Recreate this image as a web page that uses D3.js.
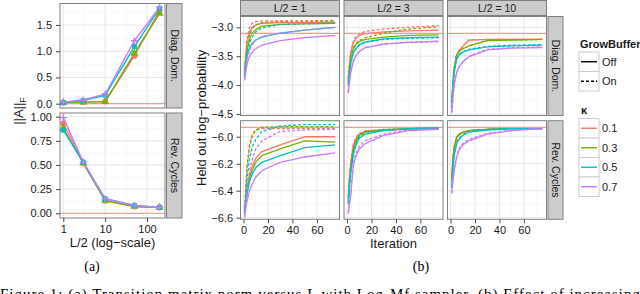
<!DOCTYPE html>
<html>
<head>
<meta charset="utf-8">
<script src="https://cdnjs.cloudflare.com/ajax/libs/d3/7.8.5/d3.min.js"></script>
<style>
body { margin: 0; background: #fff; }
svg { display: block; }
</style>
</head>
<body>
<script>
// ---- data ----
const kappas = ["0.1", "0.3", "0.5", "0.7"];
const kappaColors = ["#F8766D", "#7CAE00", "#00BFC4", "#C77CFF"];
const bufferLabels = ["Off", "On"];
const rowNames = ["Diag. Dom.", "Rev. Cycles"];
const colNames = ["L/2 = 1", "L/2 = 3", "L/2 = 10"];

// (a) ||A||_F against L/2, one row per kappa
const halfL = [1, 3, 10, 50, 200];
const normDiag = [
    [0.02, 0.03, 0.04, 0.91, 1.78],
    [0.02, 0.03, 0.04, 0.96, 1.72],
    [0.02, 0.06, 0.16, 1.09, 1.82],
    [0.03, 0.07, 0.18, 1.20, 1.84]
];
const normRev = [
    [0.93, 0.52, 0.13, 0.07, 0.06],
    [0.88, 0.52, 0.13, 0.07, 0.06],
    [0.86, 0.53, 0.15, 0.08, 0.06],
    [0.99, 0.53, 0.15, 0.08, 0.06]
];
const normRef = 0;

// (b) held out log-probability against iteration
const iters = [1, 2, 3, 5, 7, 10, 15, 30, 50, 75];
const diagL1Off = [
    [-3.75, -3.45, -3.25, -3.08, -3.00, -2.96, -2.93, -2.92, -2.92, -2.91],
    [-3.80, -3.55, -3.38, -3.20, -3.10, -3.04, -2.98, -2.95, -2.94, -2.93],
    [-3.85, -3.62, -3.48, -3.35, -3.28, -3.22, -3.17, -3.10, -3.05, -3.00],
    [-3.92, -3.75, -3.62, -3.50, -3.43, -3.37, -3.31, -3.23, -3.18, -3.14]
];
const diagL1On = [
    [-3.72, -3.40, -3.18, -3.00, -2.93, -2.90, -2.89, -2.89, -2.89, -2.88],
    [-3.78, -3.50, -3.30, -3.12, -3.02, -2.96, -2.92, -2.90, -2.90, -2.89],
    [-3.85, -3.60, -3.43, -3.27, -3.17, -3.08, -3.01, -2.95, -2.94, -2.93],
    [-3.90, -3.70, -3.55, -3.40, -3.30, -3.22, -3.16, -3.10, -3.05, -3.00]
];
const diagL3Off = [
    [-3.90, -3.65, -3.45, -3.28, -3.20, -3.14, -3.11, -3.08, -3.06, -3.05],
    [-3.95, -3.72, -3.55, -3.38, -3.30, -3.25, -3.21, -3.17, -3.14, -3.13],
    [-4.00, -3.80, -3.62, -3.45, -3.37, -3.30, -3.25, -3.20, -3.18, -3.17],
    [-4.14, -3.95, -3.78, -3.60, -3.50, -3.42, -3.35, -3.29, -3.26, -3.24]
];
const diagL3On = [
    [-3.88, -3.62, -3.42, -3.25, -3.17, -3.11, -3.07, -3.03, -3.00, -2.97],
    [-3.95, -3.70, -3.53, -3.36, -3.28, -3.23, -3.18, -3.10, -3.03, -2.99],
    [-4.00, -3.80, -3.62, -3.46, -3.38, -3.31, -3.26, -3.21, -3.19, -3.18],
    [-4.12, -3.93, -3.77, -3.60, -3.50, -3.42, -3.35, -3.29, -3.26, -3.25]
];
const diagL10Off = [
    [-4.30, -3.95, -3.70, -3.48, -3.40, -3.33, -3.22, -3.21, -3.21, -3.21],
    [-4.30, -3.95, -3.70, -3.48, -3.42, -3.37, -3.32, -3.23, -3.22, -3.21],
    [-4.40, -4.00, -3.78, -3.55, -3.48, -3.43, -3.39, -3.34, -3.32, -3.31],
    [-4.48, -4.20, -3.98, -3.78, -3.68, -3.60, -3.51, -3.39, -3.36, -3.35]
];
const diagL10On = [
    [-4.30, -3.95, -3.70, -3.48, -3.40, -3.33, -3.22, -3.21, -3.21, -3.21],
    [-4.30, -3.95, -3.70, -3.48, -3.42, -3.37, -3.32, -3.23, -3.22, -3.21],
    [-4.40, -4.00, -3.78, -3.55, -3.47, -3.42, -3.38, -3.33, -3.31, -3.30],
    [-4.47, -4.20, -3.98, -3.78, -3.68, -3.60, -3.50, -3.38, -3.35, -3.34]
];
const revL1Off = [
    [-6.55, -6.45, -6.37, -6.28, -6.22, -6.16, -6.11, -6.06, -6.00, -6.00],
    [-6.56, -6.47, -6.40, -6.30, -6.25, -6.19, -6.14, -6.09, -6.03, -6.04],
    [-6.57, -6.48, -6.42, -6.33, -6.28, -6.23, -6.19, -6.14, -6.08, -6.06],
    [-6.60, -6.52, -6.47, -6.40, -6.35, -6.30, -6.25, -6.19, -6.15, -6.12]
];
const revL1On = [
    [-6.52, -6.35, -6.20, -6.05, -5.98, -5.95, -5.94, -5.94, -5.94, -5.94],
    [-6.53, -6.37, -6.22, -6.07, -6.00, -5.95, -5.93, -5.925, -5.925, -5.925],
    [-6.55, -6.42, -6.30, -6.16, -6.08, -6.02, -5.96, -5.92, -5.91, -5.91],
    [-6.58, -6.48, -6.38, -6.25, -6.17, -6.09, -6.03, -5.96, -5.95, -5.945]
];
const revL3Off = [
    [-6.45, -6.30, -6.20, -6.07, -6.02, -5.98, -5.96, -5.95, -5.945, -5.945],
    [-6.47, -6.33, -6.23, -6.10, -6.04, -5.99, -5.965, -5.95, -5.94, -5.94],
    [-6.50, -6.37, -6.27, -6.14, -6.07, -6.01, -5.98, -5.955, -5.94, -5.935],
    [-6.57, -6.50, -6.44, -6.22, -6.15, -6.09, -6.05, -5.99, -5.955, -5.945]
];
const revL3On = [
    [-6.44, -6.29, -6.19, -6.06, -6.01, -5.975, -5.955, -5.95, -5.945, -5.945],
    [-6.46, -6.32, -6.22, -6.09, -6.03, -5.985, -5.96, -5.945, -5.94, -5.935],
    [-6.49, -6.36, -6.26, -6.13, -6.06, -6.00, -5.975, -5.95, -5.94, -5.935],
    [-6.56, -6.48, -6.42, -6.20, -6.13, -6.07, -6.03, -5.98, -5.95, -5.94]
];
const revL10Off = [
    [-6.30, -6.15, -6.07, -6.00, -5.98, -5.965, -5.955, -5.945, -5.94, -5.94],
    [-6.32, -6.17, -6.09, -6.01, -5.985, -5.97, -5.955, -5.945, -5.94, -5.94],
    [-6.38, -6.23, -6.14, -6.05, -6.02, -5.99, -5.965, -5.95, -5.94, -5.94],
    [-6.42, -6.32, -6.25, -6.15, -6.10, -6.06, -6.03, -5.98, -5.955, -5.94]
];
const revL10On = [
    [-6.30, -6.15, -6.07, -6.00, -5.98, -5.965, -5.955, -5.945, -5.94, -5.94],
    [-6.32, -6.17, -6.09, -6.01, -5.985, -5.97, -5.955, -5.945, -5.94, -5.94],
    [-6.37, -6.22, -6.13, -6.04, -6.01, -5.985, -5.96, -5.945, -5.94, -5.94],
    [-6.42, -6.31, -6.24, -6.14, -6.09, -6.05, -6.02, -5.975, -5.95, -5.94]
];
const logpRef = [-3.105, -5.93];

// tick values
const aXTicks = [1, 10, 100];
const aYTicks = [[0, 0.5, 1.0, 1.5], [0, 0.25, 0.5, 0.75, 1.0]];
const bXTicks = [0, 20, 40, 60];
const bYTicks = [[-4.5, -4.0, -3.5, -3.0], [-6.6, -6.4, -6.2, -6.0]];

// ---- look ----
const sans = "'Liberation Sans', Arial, Helvetica, sans-serif";
const serif = "'Liberation Serif', 'Times New Roman', serif";
const textCol = "#1a1a1a";
const gridMajor = "#e4e4e4", gridMinor = "#f4f4f4";
const frameCol = "#808080", stripFill = "#cccccc";

const svg = d3.select("body").append("svg")
    .attr("width", 640)
    .attr("height", 294)
    .style("font-family", sans);

// grid, border helpers
function drawGrid(g, x, y, xMaj, xMin, yMaj, yMin) {
    const [x0, x1] = x.range();
    const [y1, y0] = y.range();
    g.append("rect").attr("x", x0).attr("y", y0).attr("width", x1 - x0).attr("height", y1 - y0).attr("fill", "#fff");
    g.selectAll(null).data(xMin).enter().append("line")
        .attr("x1", d => x(d)).attr("x2", d => x(d)).attr("y1", y0).attr("y2", y1)
        .attr("stroke", gridMinor).attr("stroke-width", 0.6);
    g.selectAll(null).data(yMin).enter().append("line")
        .attr("y1", d => y(d)).attr("y2", d => y(d)).attr("x1", x0).attr("x2", x1)
        .attr("stroke", gridMinor).attr("stroke-width", 0.6);
    g.selectAll(null).data(xMaj).enter().append("line")
        .attr("x1", d => x(d)).attr("x2", d => x(d)).attr("y1", y0).attr("y2", y1)
        .attr("stroke", gridMajor).attr("stroke-width", 0.9);
    g.selectAll(null).data(yMaj).enter().append("line")
        .attr("y1", d => y(d)).attr("y2", d => y(d)).attr("x1", x0).attr("x2", x1)
        .attr("stroke", gridMajor).attr("stroke-width", 0.9);
}

function drawBorder(g, x, y) {
    const [x0, x1] = x.range();
    const [y1, y0] = y.range();
    g.append("rect").attr("x", x0).attr("y", y0).attr("width", x1 - x0).attr("height", y1 - y0)
        .attr("fill", "none").attr("stroke", frameCol).attr("stroke-width", 1);
}

function rowStrip(g, xa, xb, ya, yb, label) {
    g.append("rect").attr("x", xa).attr("y", ya).attr("width", xb - xa).attr("height", yb - ya)
        .attr("fill", stripFill).attr("stroke", frameCol).attr("stroke-width", 1);
    g.append("text")
        .attr("transform", `translate(${(xa + xb) / 2},${(ya + yb) / 2}) rotate(90)`)
        .attr("text-anchor", "middle").attr("dy", "0.35em")
        .style("font-size", "10.5px").attr("fill", textCol)
        .text(label);
}

function colStrip(g, xa, xb, ya, yb, label) {
    g.append("rect").attr("x", xa).attr("y", ya).attr("width", xb - xa).attr("height", yb - ya)
        .attr("fill", stripFill).attr("stroke", frameCol).attr("stroke-width", 1);
    g.append("text")
        .attr("x", (xa + xb) / 2).attr("y", (ya + yb) / 2)
        .attr("text-anchor", "middle").attr("dy", "0.36em")
        .style("font-size", "10.5px").attr("fill", textCol)
        .text(label);
}

function styleAxis(g) {
    g.attr("font-family", sans).attr("font-size", 11);
    g.select(".domain").remove();
    g.selectAll(".tick line").attr("stroke", "#333").attr("stroke-width", 0.9);
    g.selectAll(".tick text").attr("fill", textCol);
}

// ================= panel (a) =================
const aLeft = 60, aRight = 165;
const aRowsY = [[3.5, 108], [113, 218]];
const aYDomains = [[-0.082, 1.91], [-0.049, 1.038]];
const aYMinor = [[0.25, 0.75, 1.25, 1.75], [0.125, 0.375, 0.625, 0.875]];
const xA = d3.scaleLog().domain([0.834, 269]).range([aLeft, aRight]);
const aData = [normDiag, normRev];

const shapes = [
    d3.symbol().type(d3.symbolCircle).size(26),
    d3.symbol().type(d3.symbolTriangle).size(28),
    d3.symbol().type(d3.symbolSquare).size(24),
    null // plus, drawn with two strokes
];

const gA = svg.append("g");
aRowsY.forEach(function (ry, r) {
    const y = d3.scaleLinear().domain(aYDomains[r]).range([ry[1], ry[0]]);
    const g = gA.append("g");
    drawGrid(g, xA, y, aXTicks, [Math.sqrt(10), Math.sqrt(1000)], aYTicks[r], aYMinor[r]);
    // reference
    g.append("line").attr("x1", aLeft).attr("x2", aRight)
        .attr("y1", y(normRef)).attr("y2", y(normRef))
        .attr("stroke", "#F8766D").attr("stroke-opacity", 0.8).attr("stroke-width", 1);
    const line = d3.line().x((d, i) => xA(halfL[i])).y(d => y(d));
    aData[r].forEach(function (vals, k) {
        g.append("path").attr("d", line(vals)).attr("fill", "none")
            .attr("stroke", kappaColors[k]).attr("stroke-width", 1.4);
    });
    aData[r].forEach(function (vals, k) {
        const pts = g.selectAll(null).data(vals).enter().append("g")
            .attr("transform", (d, i) => `translate(${xA(halfL[i])},${y(d)})`);
        if (shapes[k]) {
            pts.append("path").attr("d", shapes[k]()).attr("fill", kappaColors[k]);
        } else {
            pts.append("path").attr("d", "M-3.6,0H3.6M0,-3.6V3.6")
                .attr("stroke", kappaColors[k]).attr("stroke-width", 1.4).attr("fill", "none");
        }
    });
    drawBorder(g, xA, y);
    rowStrip(g, aRight + 1.5, 182, ry[0], ry[1], rowNames[r]);
    const fmt = r === 0 ? d3.format(".1f") : d3.format(".2f");
    g.append("g").attr("transform", `translate(${aLeft},0)`)
        .call(d3.axisLeft(y).tickValues(aYTicks[r]).tickSize(4).tickPadding(4).tickFormat(fmt))
        .call(styleAxis);
    if (r === 1) {
        g.append("g").attr("transform", `translate(0,${ry[1]})`)
            .call(d3.axisBottom(xA).tickValues(aXTicks).tickSize(4).tickPadding(3).tickFormat(d3.format("d")))
            .call(styleAxis);
    }
});

gA.append("text").attr("x", (aLeft + aRight) / 2).attr("y", 246.5)
    .attr("text-anchor", "middle").style("font-size", "13px").attr("fill", textCol)
    .text("L/2 (log\u2212scale)");
const aTitle = gA.append("text")
    .attr("transform", "translate(23,111) rotate(-90)")
    .attr("text-anchor", "middle").style("font-size", "13px").attr("fill", textCol);
aTitle.append("tspan").text("||A||");
aTitle.append("tspan").attr("dy", 3).style("font-size", "9px").text("F");

// ================= panel (b) =================
const bLefts = [240.5, 344, 447.5], bW = 99;
const bRowsY = [[16.5, 115.5], [120.7, 219.3]];
const bYDomains = [[-4.526, -2.813], [-6.612, -5.881]];
const bYMinor = [[-4.25, -3.75, -3.25], [-6.5, -6.3, -6.1, -5.9]];
const bXMinor = [10, 30, 50, 70];
const bData = [
    [[diagL1Off, diagL1On], [diagL3Off, diagL3On], [diagL10Off, diagL10On]],
    [[revL1Off, revL1On], [revL3Off, revL3On], [revL10Off, revL10On]]
];
const dashes = [null, "3,2"];

const gB = svg.append("g");
bRowsY.forEach(function (ry, r) {
    const y = d3.scaleLinear().domain(bYDomains[r]).range([ry[1], ry[0]]);
    bLefts.forEach(function (left, c) {
        const x = d3.scaleLinear().domain([-2.5, 78.5]).range([left, left + bW]);
        const g = gB.append("g");
        drawGrid(g, x, y, bXTicks, bXMinor, bYTicks[r], bYMinor[r]);
        g.append("line").attr("x1", left).attr("x2", left + bW)
            .attr("y1", y(logpRef[r])).attr("y2", y(logpRef[r]))
            .attr("stroke", "#F8766D").attr("stroke-opacity", 0.75).attr("stroke-width", 1.2);
        const line = d3.line().x((d, i) => x(iters[i])).y(d => y(d));
        kappas.forEach(function (kap, k) {
            [0, 1].forEach(function (b) {
                g.append("path").attr("d", line(bData[r][c][b][k]))
                    .attr("fill", "none").attr("stroke", kappaColors[k])
                    .attr("stroke-width", 1.3)
                    .attr("stroke-dasharray", dashes[b]);
            });
        });
        drawBorder(g, x, y);
        if (r === 0) colStrip(g, left, left + bW, 0.5, 15.5, colNames[c]);
        if (c === 0) {
            g.append("g").attr("transform", `translate(${left},0)`)
                .call(d3.axisLeft(y).tickValues(bYTicks[r]).tickSize(4).tickPadding(3.5).tickFormat(d3.format(".1f")))
                .call(styleAxis);
        }
        if (r === 1) {
            g.append("g").attr("transform", `translate(0,${ry[1]})`)
                .call(d3.axisBottom(x).tickValues(bXTicks).tickSize(4).tickPadding(3).tickFormat(d3.format("d")))
                .call(styleAxis);
        }
    });
    rowStrip(gB, bLefts[2] + bW + 1.5, 563, ry[0], ry[1], rowNames[r]);
});

gB.append("text").attr("x", bLefts[1] + bW / 2).attr("y", 248)
    .attr("text-anchor", "middle").style("font-size", "13px").attr("fill", textCol)
    .text("Iteration");
gB.append("text")
    .attr("transform", `translate(206,${(bRowsY[0][0] + bRowsY[1][1]) / 2}) rotate(-90)`)
    .attr("text-anchor", "middle").style("font-size", "13px").attr("fill", textCol)
    .text("Held out log\u2212probability");

// ---- legends ----
const lg = svg.append("g");
const keyX = 579, keyW = 20, keyH = 19.5;
lg.append("text").attr("x", 580).attr("y", 48).style("font-size", "11px")
    .style("font-weight", "bold").attr("fill", textCol).text("GrowBuffer");
bufferLabels.forEach(function (lab, i) {
    const ky = 52 + i * keyH;
    lg.append("rect").attr("x", keyX).attr("y", ky).attr("width", keyW).attr("height", keyH)
        .attr("fill", "#fff").attr("stroke", "#cccccc").attr("stroke-width", 1);
    lg.append("line").attr("x1", keyX + 2).attr("x2", keyX + keyW - 2)
        .attr("y1", ky + keyH / 2).attr("y2", ky + keyH / 2)
        .attr("stroke", "#000").attr("stroke-width", 1.4).attr("stroke-dasharray", dashes[i]);
    lg.append("text").attr("x", keyX + keyW + 3).attr("y", ky + keyH / 2).attr("dy", "0.35em")
        .style("font-size", "11px").attr("fill", textCol).text(lab);
});
lg.append("text").attr("x", 581).attr("y", 114).style("font-size", "11px")
    .style("font-weight", "bold").attr("fill", textCol).text("\u03ba");
kappas.forEach(function (lab, i) {
    const ky = 118.5 + i * keyH;
    lg.append("rect").attr("x", keyX).attr("y", ky).attr("width", keyW).attr("height", keyH)
        .attr("fill", "#fff").attr("stroke", "#cccccc").attr("stroke-width", 1);
    lg.append("line").attr("x1", keyX + 2).attr("x2", keyX + keyW - 2)
        .attr("y1", ky + keyH / 2).attr("y2", ky + keyH / 2)
        .attr("stroke", kappaColors[i]).attr("stroke-width", 1.4);
    lg.append("text").attr("x", keyX + keyW + 3).attr("y", ky + keyH / 2).attr("dy", "0.35em")
        .style("font-size", "11px").attr("fill", textCol).text(lab);
});

// ---- sub captions ----
svg.append("text").attr("x", 92).attr("y", 271).attr("text-anchor", "middle")
    .style("font-family", serif).style("font-size", "14px").attr("fill", "#000").text("(a)");
svg.append("text").attr("x", 421).attr("y", 271).attr("text-anchor", "middle")
    .style("font-family", serif).style("font-size", "14px").attr("fill", "#000").text("(b)");
svg.append("text").attr("x", 0).attr("y", 299)
    .attr("textLength", 660).attr("lengthAdjust", "spacing")
    .style("font-family", serif).style("font-size", "15px").attr("fill", "#000")
    .text("Figure 1: (a) Transition matrix norm versus L with Log-Mf sampler. (b) Effect of increasing sp");
</script>
</body>
</html>
